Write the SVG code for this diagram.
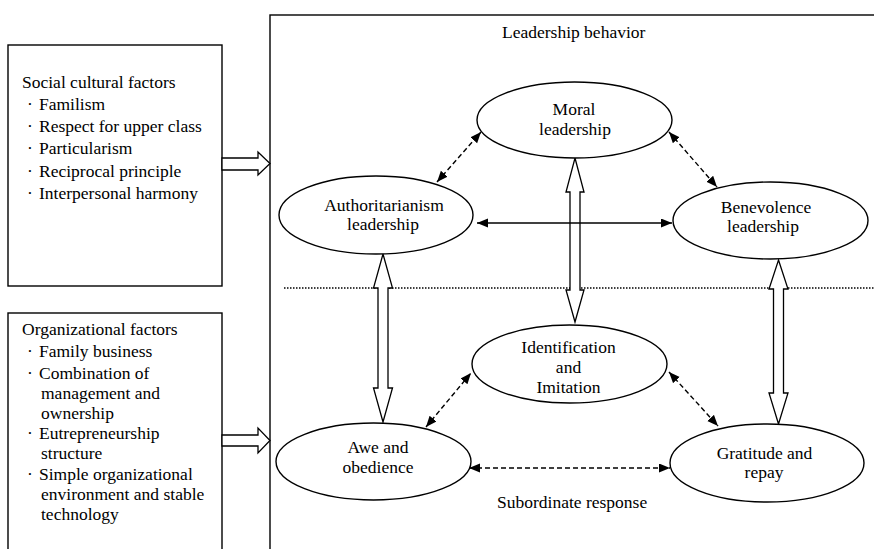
<svg xmlns="http://www.w3.org/2000/svg" width="874" height="549" viewBox="0 0 874 549">
<style>
text{font-family:"Liberation Serif","Times New Roman",serif;font-size:17.5px;fill:#000}
.c{text-anchor:middle}
.box{fill:none;stroke:#000;stroke-width:1.4}
.ell{fill:#fff;stroke:#000;stroke-width:1.4}
.hollow{fill:#fff;stroke:#000;stroke-width:1.3;stroke-linejoin:miter}
.dash{fill:none;stroke:#000;stroke-width:1.4;stroke-dasharray:5 3}
.solid{fill:none;stroke:#000;stroke-width:1.6}
.dot{fill:none;stroke:#000;stroke-width:1.5;stroke-dasharray:1.5 1.5}
</style>
<defs>
<marker id="ah" markerUnits="userSpaceOnUse" markerWidth="12" markerHeight="10" refX="11" refY="4.5" orient="auto-start-reverse">
<path d="M0,0 L11,4.5 L0,9 Z" fill="#000"/>
</marker>
</defs>

<g id="social-factors">
<rect class="box" x="8" y="45" width="214" height="241"/>
<text x="22" y="88">Social cultural factors</text>
<text x="27" y="110">·<tspan x="39">Familism</tspan></text>
<text x="27" y="132">·<tspan x="39">Respect for upper class</tspan></text>
<text x="27" y="154">·<tspan x="39">Particularism</tspan></text>
<text x="27" y="177">·<tspan x="39">Reciprocal principle</tspan></text>
<text x="27" y="199">·<tspan x="39">Interpersonal harmony</tspan></text>
</g>

<g id="organizational-factors">
<rect class="box" x="8" y="313" width="214" height="260"/>
<text x="22" y="335">Organizational factors</text>
<text x="27" y="357">·<tspan x="39">Family business</tspan></text>
<text x="27" y="379">·<tspan x="39">Combination of</tspan></text>
<text x="41" y="399">management and</text>
<text x="41" y="419">ownership</text>
<text x="27" y="439">·<tspan x="39">Eutrepreneurship</tspan></text>
<text x="41" y="459">structure</text>
<text x="27" y="480">·<tspan x="39">Simple organizational</tspan></text>
<text x="41" y="500">environment and stable</text>
<text x="41" y="520">technology</text>
</g>

<g id="leadership-frame">
<rect class="box" x="270" y="15" width="620" height="560"/>
<text x="502" y="38">Leadership behavior</text>
<text x="497" y="508">Subordinate response</text>
<line class="dot" x1="284" y1="288" x2="874" y2="288"/>
</g>

<g id="connectors">
<polygon class="hollow" points="222,158 258,158 258,152 270,163.5 258,175 258,170 222,170"/>
<polygon class="hollow" points="222,435 258,435 258,428 270,440.5 258,453 258,446 222,446"/>
<polygon class="hollow" points="575,158 584,192 580,192 580,290 584,290 575,322 566,290 570,290 570,192 566,192"/>
<polygon class="hollow" points="383,254 392.5,288 388,288 388,388 392.5,388 383,422 373.5,388 378,388 378,288 373.5,288"/>
<polygon class="hollow" points="778.5,260 788,289 783.5,289 783.5,393 788,393 778.5,424 769,393 773.5,393 773.5,289 769,289"/>
<line class="dash" x1="437" y1="182" x2="481" y2="132" marker-start="url(#ah)" marker-end="url(#ah)"/>
<line class="dash" x1="669" y1="132" x2="717" y2="187" marker-start="url(#ah)" marker-end="url(#ah)"/>
<line class="solid" x1="477" y1="223" x2="672" y2="223" marker-start="url(#ah)" marker-end="url(#ah)"/>
<line class="dash" x1="426" y1="427" x2="471" y2="373" marker-start="url(#ah)" marker-end="url(#ah)"/>
<line class="dash" x1="669" y1="372" x2="718" y2="426" marker-start="url(#ah)" marker-end="url(#ah)"/>
<line class="dash" x1="469" y1="468" x2="670" y2="468" marker-start="url(#ah)" marker-end="url(#ah)"/>
</g>

<g id="moral">
<ellipse class="ell" cx="574.5" cy="120" rx="97.5" ry="38"/>
<text class="c" x="574" y="115">Moral</text>
<text class="c" x="575" y="135">leadership</text>
</g>

<g id="authoritarianism">
<ellipse class="ell" cx="376" cy="215" rx="97" ry="39"/>
<text class="c" x="384" y="211">Authoritarianism</text>
<text class="c" x="383" y="230">leadership</text>
</g>

<g id="benevolence">
<ellipse class="ell" cx="770.5" cy="220.5" rx="97.5" ry="38.5"/>
<text class="c" x="766" y="213">Benevolence</text>
<text class="c" x="763" y="232">leadership</text>
</g>

<g id="identification">
<ellipse class="ell" cx="569.5" cy="364" rx="97.5" ry="39"/>
<text class="c" x="568.5" y="353">Identification</text>
<text class="c" x="568.5" y="373">and</text>
<text class="c" x="568.5" y="393">Imitation</text>
</g>

<g id="awe">
<ellipse class="ell" cx="373.5" cy="461.5" rx="97.5" ry="38.5"/>
<text class="c" x="378" y="453">Awe and</text>
<text class="c" x="378" y="473">obedience</text>
</g>

<g id="gratitude">
<ellipse class="ell" cx="767" cy="463" rx="97" ry="39"/>
<text class="c" x="764.5" y="459">Gratitude and</text>
<text class="c" x="764" y="478">repay</text>
</g>
</svg>
